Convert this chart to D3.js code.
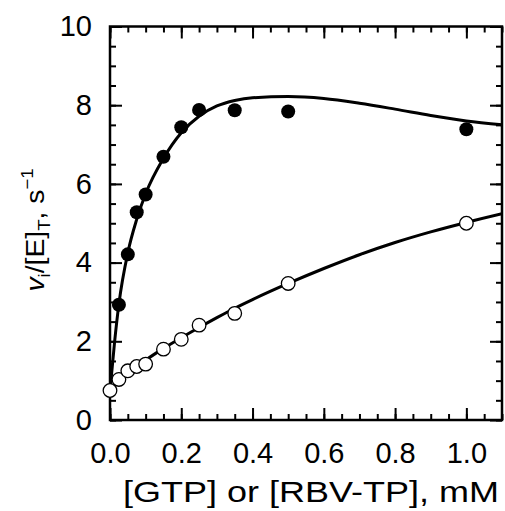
<!DOCTYPE html>
<html>
<head>
<meta charset="utf-8">
<script src="https://cdn.jsdelivr.net/npm/d3@7"></script>
<style>
  body { margin: 0; background: #fff; }
  svg text { font-family: "Liberation Sans", Arial, sans-serif; fill: #000; }
</style>
</head>
<body>
<script>
// Data: GTP (filled) and RBV-TP (open)
const gtpConc = [0.025, 0.05, 0.075, 0.1, 0.15, 0.2, 0.25, 0.35, 0.5, 1.0];
const gtpRate = [2.93, 4.21, 5.28, 5.73, 6.69, 7.44, 7.88, 7.87, 7.84, 7.39];
const rbvConc = [0, 0.025, 0.05, 0.075, 0.1, 0.15, 0.2, 0.25, 0.35, 0.5, 1.0];
const rbvRate = [0.75, 1.03, 1.25, 1.36, 1.42, 1.80, 2.05, 2.41, 2.71, 3.47, 5.0];

// Fitted curves
const gtpFitX = [0, 0.0125, 0.025, 0.05, 0.075, 0.1, 0.15, 0.2, 0.25, 0.3, 0.35, 0.4, 0.5, 0.6, 0.7, 0.8, 0.9, 1.0, 1.1];
const gtpFitY = [0.75, 1.95, 2.95, 4.25, 5.1, 5.75, 6.65, 7.3, 7.72, 7.98, 8.12, 8.19, 8.22, 8.17, 8.05, 7.9, 7.74, 7.6, 7.5];
const rbvFitX = [0, 0.05, 0.1, 0.15, 0.2, 0.25, 0.3, 0.35, 0.4, 0.5, 0.6, 0.7, 0.8, 0.9, 1.0, 1.1];
const rbvFitY = [0.75, 1.17, 1.52, 1.82, 2.09, 2.35, 2.6, 2.84, 3.06, 3.47, 3.85, 4.2, 4.51, 4.78, 5.02, 5.24];

const xTicks = [0, 0.2, 0.4, 0.6, 0.8, 1.0];
const yTicks = [0, 2, 4, 6, 8, 10];
const xMinor = d3.range(0, 1.1001, 0.05);
const yMinor = d3.range(0, 10.001, 0.5);

const width = 505, height = 511;
const plotL = 110, plotR = 502, plotT = 26.5, plotB = 420;

const svg = d3.select("body").append("svg")
    .attr("width", width)
    .attr("height", height);

const x = d3.scaleLinear().domain([0, 1.1]).range([plotL, plotR]);
const y = d3.scaleLinear().domain([0, 10]).range([plotB, plotT]);

// ticks on all four sides, pointing inward
function axisGroup(axis, tx, ty) {
  const g = svg.append("g").attr("transform", `translate(${tx},${ty})`).call(axis);
  g.select(".domain").remove();
  g.selectAll(".tick line").attr("stroke", "#000").attr("stroke-width", 2);
  return g;
}
axisGroup(d3.axisBottom(x).tickValues(xMinor).tickSize(-6).tickFormat(""), 0, plotB);
axisGroup(d3.axisTop(x).tickValues(xMinor).tickSize(-6).tickFormat(""), 0, plotT);
axisGroup(d3.axisLeft(y).tickValues(yMinor).tickSize(-6).tickFormat(""), plotL, 0);
axisGroup(d3.axisRight(y).tickValues(yMinor).tickSize(-6).tickFormat(""), plotR, 0);

// major ticks
const xAxis = axisGroup(d3.axisBottom(x).tickValues(xTicks).tickSize(-12).tickPadding(22).tickFormat(d3.format(".1f")), 0, plotB);
axisGroup(d3.axisTop(x).tickValues(xTicks).tickSize(-12).tickFormat(""), 0, plotT);
const yAxis = axisGroup(d3.axisLeft(y).tickValues(yTicks).tickSize(-12).tickPadding(18).tickFormat(d3.format("d")), plotL, 0);
axisGroup(d3.axisRight(y).tickValues(yTicks).tickSize(-12).tickFormat(""), plotR, 0);

xAxis.selectAll("text").attr("font-size", 29).attr("font-family", "Liberation Sans, Arial, sans-serif").attr("fill", "#000");
yAxis.selectAll("text").attr("font-size", 29).attr("font-family", "Liberation Sans, Arial, sans-serif").attr("fill", "#000");

// frame
svg.append("rect")
    .attr("x", plotL).attr("y", plotT)
    .attr("width", plotR - plotL).attr("height", plotB - plotT)
    .attr("fill", "none").attr("stroke", "#000").attr("stroke-width", 2.5);

// clip for curves
svg.append("clipPath").attr("id", "plot")
  .append("rect").attr("x", plotL).attr("y", plotT)
  .attr("width", plotR - plotL).attr("height", plotB - plotT);

const line = d3.line()
    .x(d => x(d[0]))
    .y(d => y(d[1]))
    .curve(d3.curveMonotoneX);

svg.append("path")
    .datum(gtpFitX.map((v, i) => [v, gtpFitY[i]]))
    .attr("clip-path", "url(#plot)")
    .attr("d", line)
    .attr("fill", "none").attr("stroke", "#000").attr("stroke-width", 3);

svg.append("path")
    .datum(rbvFitX.map((v, i) => [v, rbvFitY[i]]))
    .attr("clip-path", "url(#plot)")
    .attr("d", line)
    .attr("fill", "none").attr("stroke", "#000").attr("stroke-width", 3);

// points
svg.append("g").selectAll("circle")
    .data(rbvConc.map((v, i) => [v, rbvRate[i]]))
    .enter().append("circle")
    .attr("cx", d => x(d[0]))
    .attr("cy", d => y(d[1]))
    .attr("r", 6.8)
    .attr("fill", "#fff").attr("stroke", "#000").attr("stroke-width", 1.3);

svg.append("g").selectAll("circle")
    .data(gtpConc.map((v, i) => [v, gtpRate[i]]))
    .enter().append("circle")
    .attr("cx", d => x(d[0]))
    .attr("cy", d => y(d[1]))
    .attr("r", 7)
    .attr("fill", "#000");

// axis titles
svg.append("text")
    .attr("transform", `translate(${(plotL + plotR) / 2 + 5},502) scale(1.2,1)`)
    .attr("text-anchor", "middle")
    .attr("font-size", 30)
    .text("[GTP] or [RBV-TP], mM");

const yt = svg.append("text")
    .attr("transform", "translate(44,230) rotate(-90) scale(1.09,1)")
    .attr("text-anchor", "middle")
    .attr("font-size", 26);
yt.append("tspan").attr("font-style", "italic").text("v");
yt.append("tspan").attr("font-size", 17).attr("dy", 6).text("i");
yt.append("tspan").attr("dy", -6).text("/[E]");
yt.append("tspan").attr("font-size", 17).attr("dy", 6).text("T");
yt.append("tspan").attr("dy", -6).text(", s");
yt.append("tspan").attr("font-size", 17).attr("dy", -11).text("−1");
</script>
</body>
</html>
